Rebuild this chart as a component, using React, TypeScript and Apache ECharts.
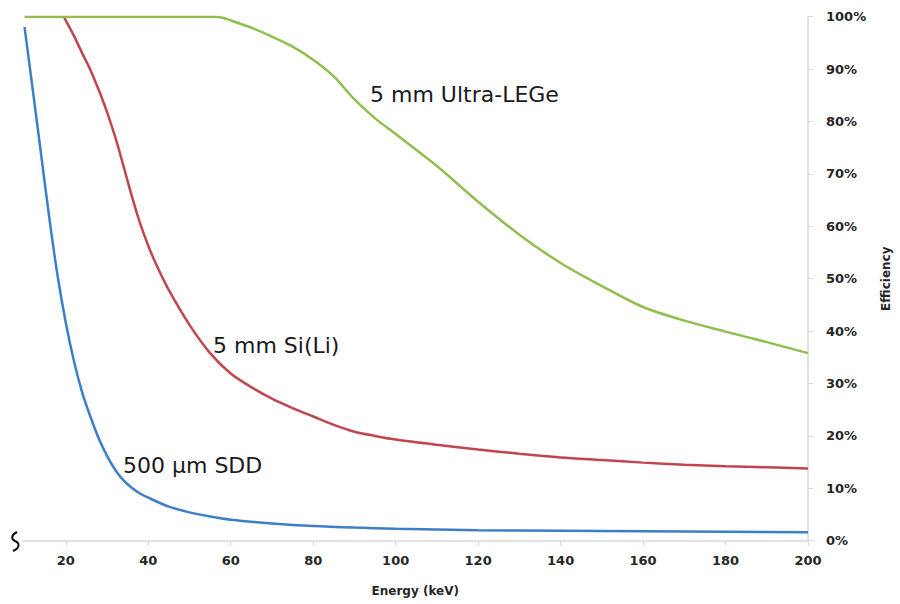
import React, { useEffect, useRef } from "react";
import * as echarts from "echarts";

// Energy (keV) / efficiency (%) readings
const sddEnergy = [10, 12, 14, 16, 18, 20, 22, 24, 26, 28, 30, 32, 34, 36, 38, 40, 45, 50, 55, 60, 70, 80, 90, 100, 120, 140, 160, 180, 200];
const sddEff = [98, 86, 73.8, 61.6, 50.6, 41.6, 34.2, 28.2, 23.6, 19.5, 16.2, 13.5, 11.5, 10.1, 9.0, 8.2, 6.5, 5.4, 4.6, 4.0, 3.3, 2.8, 2.5, 2.3, 2.0, 1.9, 1.8, 1.7, 1.6];

const siliEnergy = [19.5, 22, 24, 26, 28, 30, 32, 34, 36, 38, 40, 42, 45, 50, 55, 60, 65, 70, 75, 80, 85, 90, 95, 100, 110, 120, 130, 140, 150, 160, 170, 180, 190, 200];
const siliEff = [100, 96.3, 93, 89.8, 86, 81.8, 77, 71.5, 65.8, 60.6, 56.3, 52.6, 47.8, 41.2, 35.8, 31.9, 29.3, 27.1, 25.3, 23.7, 22.1, 20.8, 20, 19.3, 18.3, 17.4, 16.6, 15.9, 15.4, 14.9, 14.5, 14.2, 14.0, 13.8];

const legeEnergy = [10, 20, 30, 40, 50, 56, 58, 60, 65, 70, 75, 80, 85, 90, 95, 100, 110, 120, 130, 140, 150, 160, 170, 180, 190, 200];
const legeEff = [100, 100, 100, 100, 100, 100, 99.8, 99.3, 97.9, 96.2, 94.3, 91.8, 88.6, 84.2, 80.6, 77.6, 71.5, 64.7, 58.4, 53, 48.6, 44.6, 42.0, 39.9, 37.9, 35.8];

const xTicks = [20, 40, 60, 80, 100, 120, 140, 160, 180, 200];
const seriesNames = ["500 µm SDD", "5 mm Si(Li)", "5 mm Ultra-LEGe"];

const zip = (xs: number[], ys: number[]) => xs.map((x, i) => [x, ys[i]]);

echarts.graphic.registerShape(
  "axisbreak",
  echarts.graphic.extendPath("M 5 0 C -1 3, -1 7, 3 9 C 8 11, 8 16, 1 19", {})
);

export default function App() {
  const ref = useRef<HTMLDivElement>(null);
  useEffect(() => {
    if (!ref.current) return;
    const chart = echarts.init(ref.current, null, { renderer: "svg" });
    const axisFont = { fontFamily: "DejaVu Sans", fontWeight: "bold" as const, fontSize: 13, color: "#262626" };
    const lineCommon = {
      type: "line" as const,
      showSymbol: false,
      smooth: 0.3,
    };
    chart.setOption({
      animation: false,
      backgroundColor: "#ffffff",
      grid: { left: 22.5, right: 90.7, top: 16.7, bottom: 63.3 },
      xAxis: {
        type: "value",
        min: 9.5,
        max: 200,
        name: "Energy (keV)",
        nameLocation: "middle",
        nameGap: 44,
        nameTextStyle: { fontFamily: "DejaVu Sans", fontWeight: "bold", fontSize: 12, color: "#262626" },
        axisLine: { show: true, lineStyle: { color: "#d9d9d9", width: 1.5 } },
        axisTick: { show: true, length: 5, lineStyle: { color: "#d9d9d9" }, customValues: xTicks },
        axisLabel: { ...axisFont, margin: 13, customValues: xTicks },
        splitLine: { show: false },
      },
      yAxis: {
        type: "value",
        position: "right",
        min: 0,
        max: 100,
        interval: 10,
        name: "Efficiency",
        nameLocation: "middle",
        nameRotate: 90,
        nameGap: 72,
        nameTextStyle: { fontFamily: "DejaVu Sans", fontWeight: "bold", fontSize: 12, color: "#262626" },
        axisLine: { show: true, lineStyle: { color: "#d9d9d9", width: 1.5 } },
        axisTick: { show: true, length: 5, lineStyle: { color: "#d9d9d9" } },
        axisLabel: { ...axisFont, margin: 18, formatter: "{value}%" },
        splitLine: { show: false },
      },
      series: [
        { ...lineCommon, name: seriesNames[0], data: zip(sddEnergy, sddEff), lineStyle: { color: "#3c7fc6", width: 2.5 } },
        { ...lineCommon, name: seriesNames[1], data: zip(siliEnergy, siliEff), lineStyle: { color: "#c0454f", width: 2.5 } },
        { ...lineCommon, name: seriesNames[2], data: zip(legeEnergy, legeEff), lineStyle: { color: "#92bd4f", width: 2.5 } },
      ],
      graphic: [
        {
          type: "text",
          left: 370,
          top: 83,
          style: { text: seriesNames[2], font: "22px 'DejaVu Sans'", fill: "#1a1a1a" },
        },
        {
          type: "text",
          left: 213,
          top: 334,
          style: { text: seriesNames[1], font: "22px 'DejaVu Sans'", fill: "#1a1a1a" },
        },
        {
          type: "text",
          left: 123,
          top: 454,
          style: { text: seriesNames[0], font: "22px 'DejaVu Sans'", fill: "#1a1a1a" },
        },
        {
          type: "axisbreak",
          x: 12,
          y: 532,
          style: { stroke: "#111", lineWidth: 2, fill: "none" },
        },
      ],
    });
    return () => chart.dispose();
  }, []);
  return <div ref={ref} style={{ position: "fixed", left: 0, top: 0, width: 900, height: 604 }} />;
}
